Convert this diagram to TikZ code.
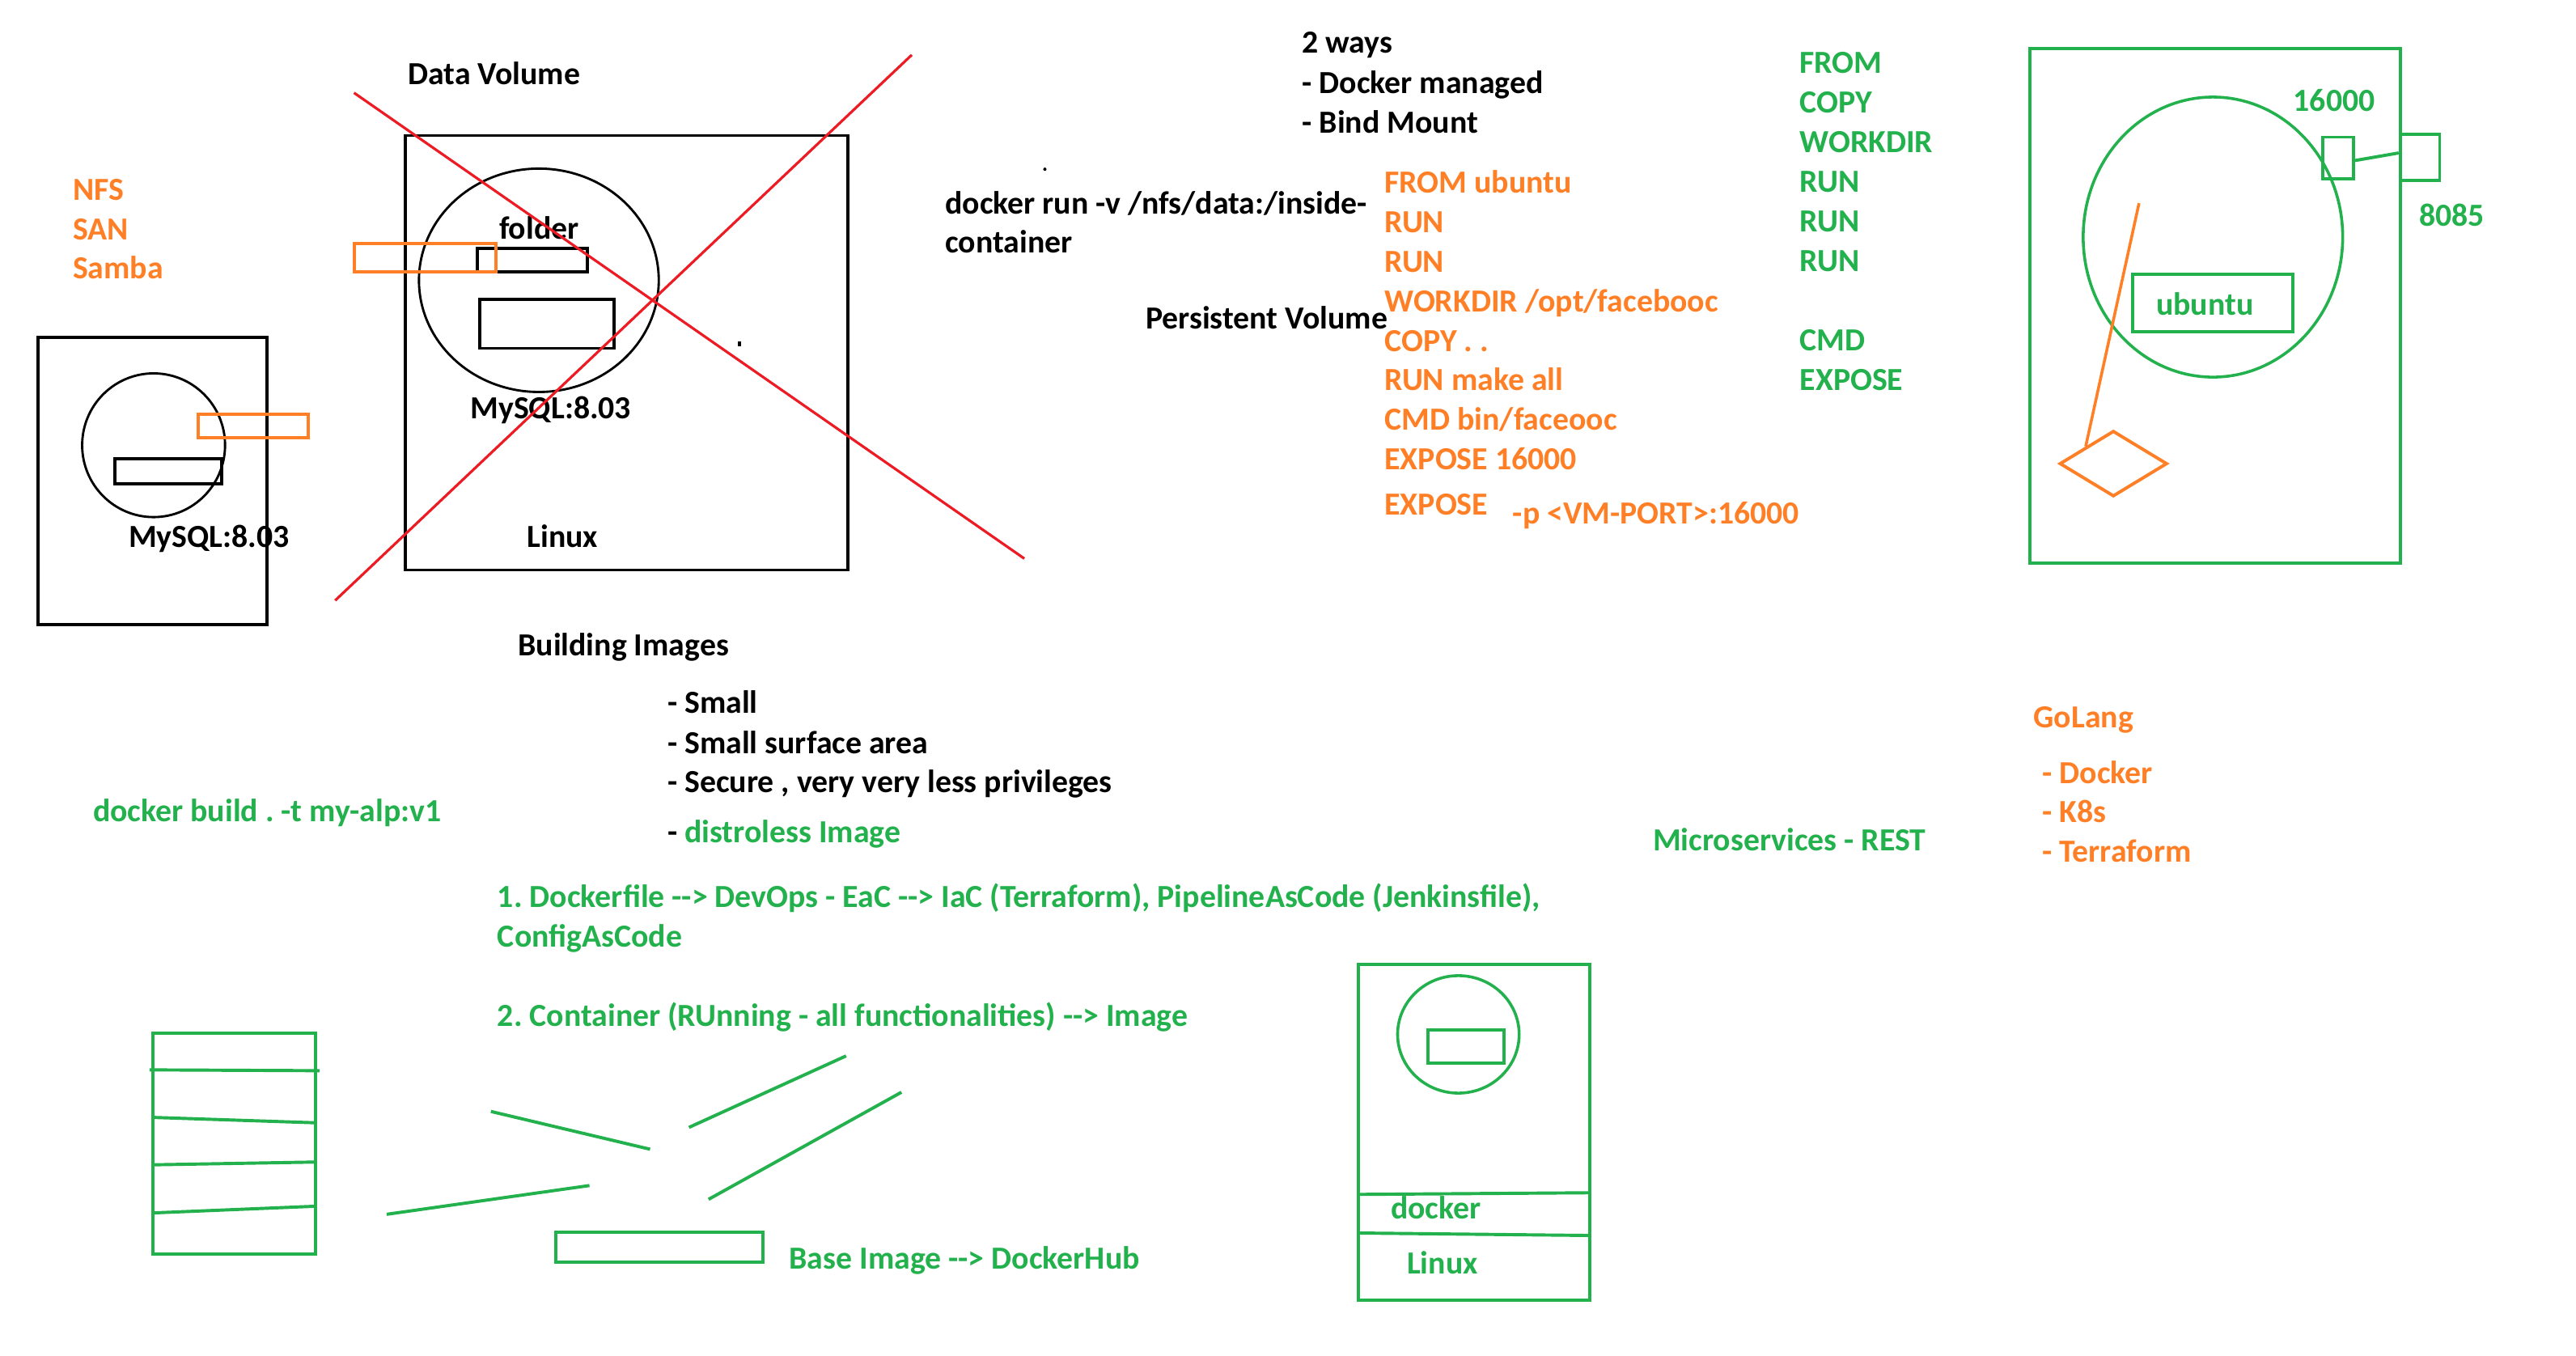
\documentclass[tikz,border=0pt]{standalone}
\usepackage{fontspec}
\setmainfont{Carlito}
\usetikzlibrary{shapes.geometric, positioning}
\definecolor{pgreen}{RGB}{34,177,76}
\definecolor{porange}{RGB}{255,127,39}
\definecolor{pred}{RGB}{237,28,36}
\newcommand{\darr}{-{}-{}>}
\frenchspacing

\begin{document}
\begin{tikzpicture}[x=0.02cm,y=-0.02cm,
   txt/.style={font=\fontsize{11.15}{13}\selectfont\bfseries,inner sep=0pt,anchor=base west},
   gtxt/.style={txt,text=pgreen},
   otxt/.style={txt,text=porange},
   box/.style={draw,rectangle,inner sep=0pt,line width=1.1pt},
   oval/.style={draw,ellipse,inner sep=0pt,line width=0.8pt},
   gbox/.style={box,draw=pgreen},
   obox/.style={box,draw=porange},
   stroke/.style={pgreen,line width=1.1pt}]
   \useasboundingbox (0,0) rectangle (1568,825);

   % left host
   \node[box,minimum width=2.79cm,minimum height=3.49cm] (host) at (92.75,292.75) {};
   \node[oval,minimum width=1.74cm,minimum height=1.75cm] (hostc) at (93.5,271) {};
   \node[box,minimum width=1.30cm,minimum height=0.31cm] (hostd) at (102.5,286.75) {};
   \node[obox,minimum width=1.34cm,minimum height=0.29cm] (hostm) at (154,259.25) {};
   \node[txt] (hostsql) at (78,333) {MySQL:8.03};
   \foreach \t [count=\i] in {NFS,SAN,Samba}
      \node[otxt] (st\i) at (44,97.8+24*\i) {\t};

   % data volume
   \node[txt] (dvol) at (248,51.5) {Data Volume};
   \node[box,minimum width=5.38cm,minimum height=5.29cm] (linux) at (381.4,214.7) {};
   \node[oval,minimum width=2.92cm,minimum height=2.72cm] (cont) at (328,170.6) {};
   \node[box,minimum width=1.34cm,minimum height=0.29cm] (fold) at (324,158.25) {};
   \node[box,minimum width=1.64cm,minimum height=0.60cm] (data) at (333,197) {};
   \node[obox,minimum width=1.73cm,minimum height=0.35cm] (mnt) at (258.75,156.75) {};
   \node[txt] (foldl) at (303.5,145.6) {folder};
   \node[txt] (contsql) at (286,255) {MySQL:8.03};
   \node[txt] (linuxl) at (320.5,333) {Linux};
   \fill (449,208) rectangle (451,211);
   \fill (636,103) circle (1);
   \draw[pred,line width=0.9pt] (215.5,56.5) -- (623.5,340);
   \draw[pred,line width=0.9pt] (204,365.5) -- (555,33.4);

   % volumes
   \node[txt] (ways) at (792.3,32.5) {2 ways};
   \node[txt] (way1) at (792.3,56.7) {- Docker managed};
   \node[txt] (way2) at (792.3,80.9) {- Bind Mount};
   \node[txt] (run1) at (575,130.2) {docker run -v /nfs/data:/inside-};
   \node[txt] (run2) at (575,153.9) {container};
   \node[txt] (pvol) at (697,200) {Persistent Volume};

   % dockerfile
   \foreach \t [count=\i] in {FROM ubuntu,RUN,RUN,WORKDIR /opt/facebooc,COPY . .,RUN make all,CMD bin/faceooc,EXPOSE 16000}
      \node[otxt] (df\i) at (842.5,93.6+24.03*\i) {\t};
   \node[otxt] (dfx) at (842.5,313.3) {EXPOSE};
   \node[otxt] (port) at (920.5,318.8) {-p <VM-PORT>:16000};
   \foreach \t [count=\i] in {FROM,COPY,WORKDIR,RUN,RUN,RUN,,CMD,EXPOSE}
      \node[gtxt] (kw\i) at (1095.2,20.7+24.1*\i) {\t};

   % vm with port
   \node[gbox,minimum width=4.51cm,minimum height=6.27cm] (vm) at (1348.25,186.05) {};
   \node[oval,draw=pgreen,line width=1pt,minimum width=3.16cm,minimum height=3.41cm] (vmc) at (1347,144.3) {};
   \node[gbox,minimum width=0.37cm,minimum height=0.51cm] (p16) at (1423.3,96.2) {};
   \node[gbox,minimum width=0.48cm,minimum height=0.56cm] (p85) at (1473,95.6) {};
   \draw[pgreen,line width=1.1pt] ([yshift=-0.03cm]p16.east) -- ([yshift=0.05cm]p85.west);
   \node[gtxt] (p16l) at (1395.6,67.8) {16000};
   \node[gtxt] (p85l) at (1472.3,137.8) {8085};
   \node[gbox,minimum width=1.95cm,minimum height=0.70cm] (ubu) at (1346.75,184.5) {};
   \node[gtxt] (ubul) at (1312.1,192) {ubuntu};
   \node[draw=porange,diamond,line width=1.1pt,inner sep=0pt,minimum width=1.31cm,minimum height=0.80cm] (dia) at (1286.4,282.2) {};
   \coordinate (pin) at (1302,123.7);
   \draw[porange,line width=1pt] (pin) -- (dia.north west);

   % building images
   \node[txt] (bimg) at (315,398.9) {Building Images};
   \node[txt] (b1) at (406,434.2) {- Small};
   \node[txt] (b2) at (406,458.8) {- Small surface area};
   \node[txt] (b3) at (406,482.6) {- Secure , very very less privileges};
   \node[txt] (b4) at (406,513) {- {\color{pgreen}distroless Image}};
   \node[gtxt] (build) at (56.3,499.9) {docker build . -t my-alp:v1};
   \node[gtxt] (w1) at (302.5,552.4) {1. Dockerfile \darr{} DevOps - EaC \darr{} IaC (Terraform), PipelineAsCode (Jenkinsfile),};
   \node[gtxt] (w1b) at (302.5,576.5) {ConfigAsCode};
   \node[gtxt] (w2) at (302.5,624.9) {2. Container (RUnning - all functionalities) \darr{} Image};
   \node[gtxt] (micro) at (1005.8,517.9) {Microservices - REST};
   \node[otxt] (go) at (1237.5,443.2) {GoLang};
   \foreach \t [count=\i] in {Docker,K8s,Terraform}
      \node[otxt] (go\i) at (1242.8,452.9+23.9*\i) {- \t};

   % layers
   \node[gbox,minimum width=1.98cm,minimum height=2.69cm] (stack) at (142.5,696) {};
   \draw[stroke] (91,651.2) -- (194.5,651.7);
   \draw[stroke] (92.3,680.1) -- (192,683.4);
   \draw[stroke] (92.3,709) -- (192,707.3);
   \draw[stroke] (92.3,738.3) -- (192,734.2);
   \draw[stroke] (298.8,676.5) -- (395.7,699.5);
   \draw[stroke] (419.4,686.2) -- (515,642.7);
   \draw[stroke] (548.7,664.8) -- (431.3,730);
   \draw[stroke] (235.4,739.1) -- (358.8,721.6);
   \node[gbox,minimum width=2.52cm,minimum height=0.37cm] (base) at (401.3,759.1) {};
   \node[gtxt] (basel) at (480.1,772.4) {Base Image \darr{} DockerHub};

   % host with docker
   \node[gbox,minimum width=2.81cm,minimum height=4.09cm] (tower) at (897.25,689.2) {};
   \node[oval,draw=pgreen,line width=1pt,minimum width=1.48cm,minimum height=1.43cm] (towc) at (887.7,629.6) {};
   \node[gbox,minimum width=0.92cm,minimum height=0.40cm] (towr) at (892.3,637) {};
   \draw[stroke] (827,727) -- (967.5,726);
   \draw[stroke] (827,750.5) -- (967.5,752);
   \node[gtxt] (dockl) at (846.2,742) {docker};
   \node[gtxt] (linl) at (856.1,775.5) {Linux};
\end{tikzpicture}
\end{document}
